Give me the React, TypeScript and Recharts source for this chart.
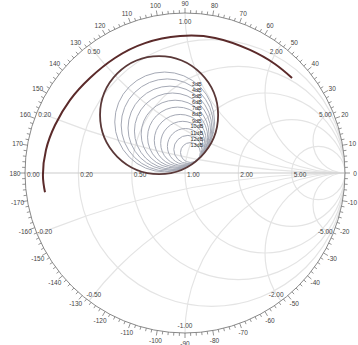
import React from 'react'
import * as Recharts from 'recharts'
import { LineChart, Line, XAxis, YAxis, Customized } from 'recharts'

const CHART_W = 358
const CHART_H = 345
const MARGIN = { top: 13, right: 13, bottom: 12, left: 25 }
const DOMAIN: [number, number] = [-1, 1]
const FONT = '"Liberation Sans", Arial, sans-serif'

// Smith chart grid
const resistanceValues = [0.2, 0.5, 1, 2, 5]
const reactanceValues = [0.2, 0.5, 1, 2, 5]
const angleLabels = [
  0, 10, 20, 30, 40, 50, 60, 70, 80, 90, 100, 110, 120, 130, 140, 150, 160, 170, 180,
  -170, -160, -150, -140, -130, -120, -110, -100, -90, -80, -70, -60, -50, -40, -30, -20, -10,
]

// reflection coefficient trace (re, im)
const tracePoints = [
  { x: -0.875, y: -0.12 },
  { x: -0.888, y: -0.012 },
  { x: -0.869, y: 0.144 },
  { x: -0.812, y: 0.3 },
  { x: -0.719, y: 0.456 },
  { x: -0.594, y: 0.594 },
  { x: -0.438, y: 0.719 },
  { x: -0.25, y: 0.812 },
  { x: -0.031, y: 0.856 },
  { x: 0.188, y: 0.844 },
  { x: 0.406, y: 0.769 },
  { x: 0.562, y: 0.681 },
  { x: 0.669, y: 0.594 },
]

// boundary circle around the gain contours (re, im, radius)
const boundaryCircle = { re: -0.162, im: 0.362, radius: 0.369 }

// gain circles: centre (re, im) and radius in reflection-coefficient units
const ringCenterRe = [-0.127, -0.111, -0.094, -0.078, -0.062, -0.046, -0.03, -0.014, 0.002, 0.018, 0.034]
const ringCenterIm = [0.319, 0.3, 0.281, 0.262, 0.243, 0.224, 0.204, 0.185, 0.166, 0.147, 0.128]
const ringRadius = [0.312, 0.288, 0.262, 0.238, 0.212, 0.188, 0.162, 0.138, 0.112, 0.088, 0.062]
const ringLabels = ['3dB', '4dB', '5dB', '6dB', '7dB', '8dB', '9dB', '10dB', '11dB', '12dB', '13dB']

const usePlotAreaHook: undefined | (() => any) = (Recharts as any).usePlotArea

function usePlotBox() {
  const area = usePlotAreaHook ? usePlotAreaHook() : undefined
  if (area && area.width > 0) return area
  return {
    x: MARGIN.left,
    y: MARGIN.top,
    width: CHART_W - MARGIN.left - MARGIN.right,
    height: CHART_H - MARGIN.top - MARGIN.bottom,
  }
}

function useSmithScale() {
  const box = usePlotBox()
  const span = DOMAIN[1] - DOMAIN[0]
  const sx = (v: number) => box.x + ((v - DOMAIN[0]) / span) * box.width
  const sy = (v: number) => box.y + ((DOMAIN[1] - v) / span) * box.height
  return { sx, sy, cx: sx(0), cy: sy(0), R: sx(1) - sx(0) }
}

function SmithGrid() {
  const { sx, sy, cx, cy, R } = useSmithScale()
  const ticks: number[] = []
  for (let d = 0; d < 360; d += 2) ticks.push(d)

  return (
    <g fontFamily={FONT}>
      <defs>
        <clipPath id="unit-disk">
          <circle cx={cx} cy={cy} r={R} />
        </clipPath>
      </defs>
      <g clipPath="url(#unit-disk)" fill="none" stroke="#e4e4e4" strokeWidth={1.2}>
        {resistanceValues.map((r) => (
          <circle key={'r' + r} cx={sx(r / (1 + r))} cy={cy} r={sx(1 / (1 + r)) - sx(0)} />
        ))}
        {reactanceValues
          .flatMap((x) => [x, -x])
          .map((x) => (
            <circle key={'x' + x} cx={sx(1)} cy={sy(1 / x)} r={Math.abs(sy(1 / x) - sy(0))} />
          ))}
        <line x1={sx(-1)} x2={sx(1)} y1={cy} y2={cy} stroke="#cbcbcb" />
      </g>
      <circle cx={cx} cy={cy} r={R} fill="none" stroke="#8a8a8a" strokeWidth={1} />
      {ticks.map((d) => {
        const a = (d * Math.PI) / 180
        const len = d % 10 === 0 ? 5 : 3
        return (
          <line
            key={'t' + d}
            x1={cx + R * Math.cos(a)}
            y1={cy - R * Math.sin(a)}
            x2={cx + (R + len) * Math.cos(a)}
            y2={cy - (R + len) * Math.sin(a)}
            stroke="#666"
            strokeWidth={0.7}
          />
        )
      })}
      {angleLabels.map((d) => {
        const a = (d * Math.PI) / 180
        return (
          <text
            key={'a' + d}
            x={cx + (R + 10) * Math.cos(a)}
            y={cy - (R + 10) * Math.sin(a)}
            fontSize={6.5}
            fill="#444"
            textAnchor="middle"
            dominantBaseline="central"
          >
            {d}
          </text>
        )
      })}
      {reactanceValues
        .flatMap((x) => [x, -x])
        .map((x) => {
          const a = Math.PI - 2 * Math.atan(x)
          const rr = R - 8
          return (
            <text
              key={'xl' + x}
              x={cx + rr * Math.cos(a)}
              y={cy - rr * Math.sin(a)}
              fontSize={6.5}
              fill="#444"
              textAnchor="middle"
              dominantBaseline="central"
            >
              {x.toFixed(2)}
            </text>
          )
        })}
      {[0, ...resistanceValues].map((r) => (
        <text
          key={'rl' + r}
          x={sx((r - 1) / (r + 1)) + 2}
          y={cy + 1}
          fontSize={6.5}
          fill="#444"
          textAnchor="start"
          dominantBaseline="central"
        >
          {r.toFixed(2)}
        </text>
      ))}
    </g>
  )
}

function GainRings() {
  const { sx, sy } = useSmithScale()
  // labels sit on each ring, up and to the right of its centre
  const a = (50 * Math.PI) / 180
  return (
    <g fontFamily={FONT}>
      {ringRadius.map((rad, i) => {
        const cxp = sx(ringCenterRe[i])
        const cyp = sy(ringCenterIm[i])
        const rp = sx(rad) - sx(0)
        return (
          <g key={'ring' + i}>
            <circle cx={cxp} cy={cyp} r={rp} fill="none" stroke="#a5a9b5" strokeWidth={1} />
            <text
              x={cxp + rp * Math.cos(a)}
              y={cyp - rp * Math.sin(a)}
              fontSize={5.5}
              fill="#2e2e2e"
              textAnchor="middle"
              dominantBaseline="central"
            >
              {ringLabels[i]}
            </text>
          </g>
        )
      })}
      <circle
        cx={sx(boundaryCircle.re)}
        cy={sy(boundaryCircle.im)}
        r={sx(boundaryCircle.radius) - sx(0)}
        fill="none"
        stroke="#5a3838"
        strokeWidth={1.8}
      />
    </g>
  )
}

export default function App() {
  return (
    <div style={{ position: 'absolute', left: 0, top: 0, width: CHART_W, height: CHART_H, background: '#fff' }}>
      <LineChart width={CHART_W} height={CHART_H} margin={MARGIN}>
        <XAxis dataKey="x" type="number" domain={DOMAIN} allowDataOverflow hide />
        <YAxis dataKey="y" type="number" domain={DOMAIN} allowDataOverflow hide />
        <Customized component={<SmithGrid />} />
        <Line
          data={tracePoints}
          dataKey="y"
          type="natural"
          stroke="#5b2a2a"
          strokeWidth={2}
          dot={false}
          isAnimationActive={false}
        />
        <Customized component={<GainRings />} />
      </LineChart>
    </div>
  )
}
